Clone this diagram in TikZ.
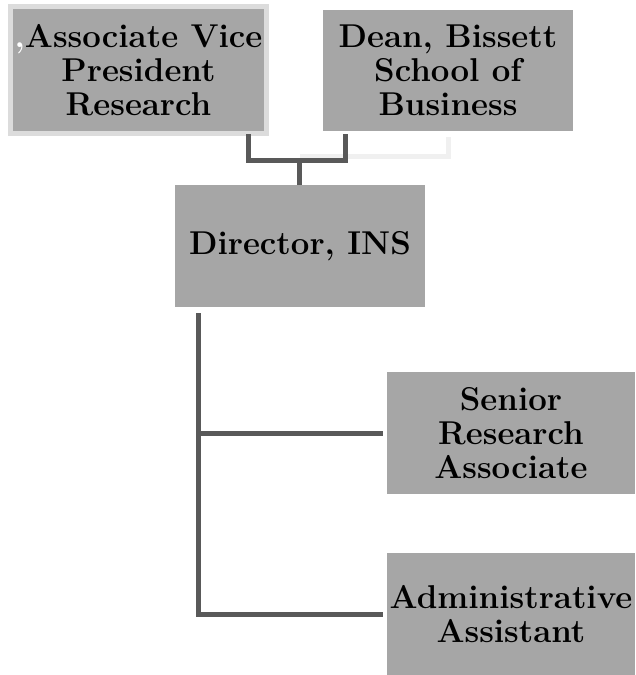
\documentclass[tikz,border=0pt]{standalone}
\usepackage{xcolor}
\usepackage{tikz}
\definecolor{boxgray}{HTML}{A6A6A6}
\definecolor{linegray}{HTML}{595959}
\definecolor{rimgray}{HTML}{DCDCDC}
\definecolor{ghostgray}{HTML}{F0F0F0}

\begin{document}
\begin{tikzpicture}[x=1pt,y=-1pt,
    post/.style={fill=boxgray,inner sep=0pt,align=center,minimum width=250pt,minimum height=122pt,
      font=\fontsize{33}{34}\selectfont\bfseries},
    link/.style={draw=linegray,line width=5pt},
    ghostlink/.style={draw=ghostgray,line width=5pt}]
    \useasboundingbox (0,0) rectangle (635,675);

    \draw node at (138.5,70)[name=avp,post,draw=rimgray,line width=4.5pt,minimum width=256pt,minimum height=127pt]{{\color{white},}Associate Vice\\President\\Research};
    \draw node at (448,70.5)[name=dean,post,minimum height=121pt]{Dean, Bissett\\School of\\Business};
    \draw node at (300,246)[name=director,post]{Director, INS};
    \draw node at (511,433)[name=senior,post,minimum width=248pt]{Senior\\Research\\Associate};
    \draw node at (511,614)[name=admin,post,minimum width=248pt]{Administrative\\Assistant};

    \coordinate (avpout) at (248.5,134);
    \coordinate (deanout) at (345,134);
    \coordinate (join) at (299.5,160);
    \coordinate (ghost) at (299.5,156);
    \coordinate (dirout) at (198,313);

    \draw[ghostlink] ([yshift=-6pt]dean.south) |- (ghost);
    \draw[link] (avpout) |- (deanout |- join) -- (deanout);
    \draw[link] (join) -- (join |- director.north);
    \draw[link] (dirout) |- ([xshift=-4pt]admin.west);
    \draw[link] (dirout |- senior.west) -- ([xshift=-4pt]senior.west);
\end{tikzpicture}
\end{document}
